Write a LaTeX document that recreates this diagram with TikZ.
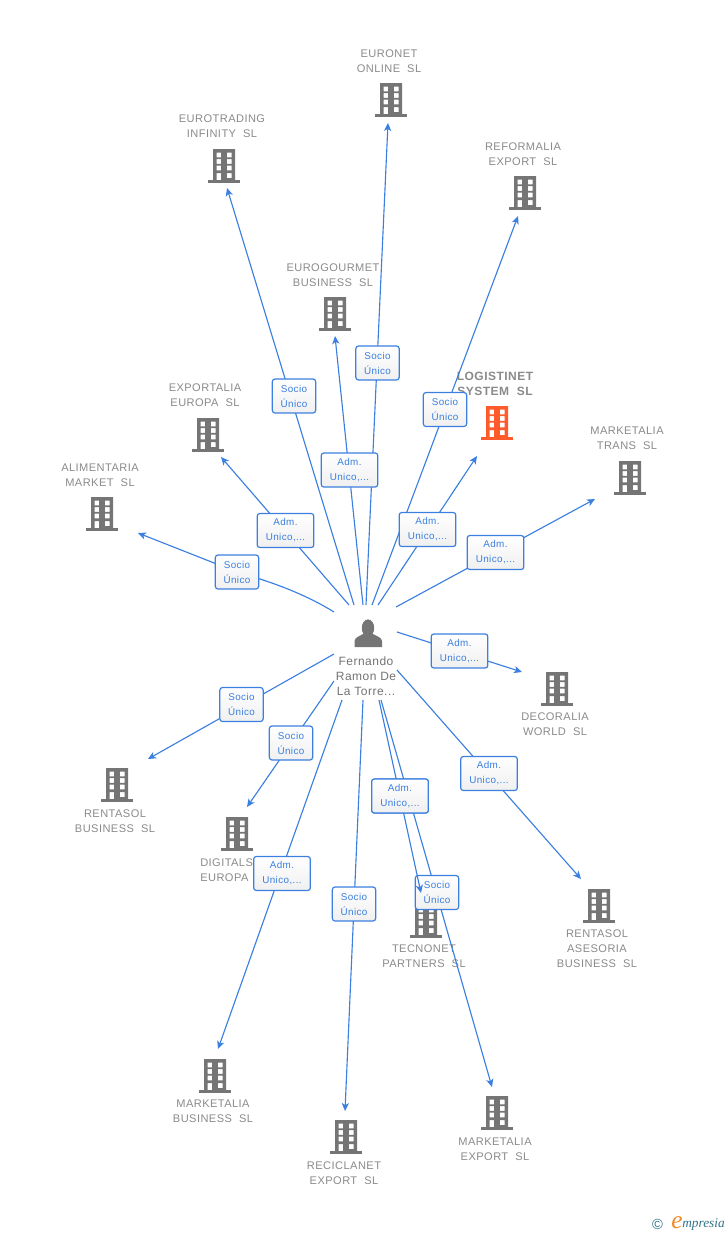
\documentclass[tikz,border=0pt]{standalone}
\usepackage{fontspec}
\usetikzlibrary{arrows.meta}
\setmainfont{Liberation Sans}
\newfontfamily\lblfont[LetterSpace=4]{Liberation Sans}
\newfontfamily\logofont{Liberation Serif}
\definecolor{linkblue}{HTML}{3B7FE0}
\definecolor{txtgray}{HTML}{8A8A8A}
\definecolor{bldgray}{HTML}{757575}
\definecolor{bldred}{HTML}{FF5A2B}
\definecolor{logoteal}{HTML}{2F7488}
\definecolor{logoorange}{HTML}{F08A24}
\tikzset{
  x=0.75pt,y=-0.75pt,
  conn/.style={draw=linkblue,line width=0.85pt,-{Stealth[length=6pt,width=5.4pt,inset=1.6pt]}},
  lab/.style={draw=linkblue,line width=0.9pt,rounded corners=2pt,top color=white,bottom color=white!94!black,
    text=linkblue,font=\lblfont\fontsize{7.4pt}{11.25pt}\selectfont,align=center,inner sep=0pt,minimum height=25.5pt},
  socio/.style={lab,minimum width=32.5pt},
  adm/.style={lab,minimum width=42.5pt},
  comp/.style={text=txtgray,font=\lblfont\fontsize{8.3pt}{11.25pt}\selectfont,align=center,inner sep=0pt},
  compmain/.style={comp,font=\lblfont\bfseries\fontsize{9pt}{11.25pt}\selectfont},
}
\newcommand{\bldicon}[4]{% name, x, top y, colour
  \coordinate (#1) at (#2,#3+17);
  \begin{scope}[shift={(#2,#3)}]
    \fill[#4,even odd rule] (-11,0) rectangle (11,31)
      (-7.5,3.7) rectangle (-2.8,8.3) (2.8,3.7) rectangle (7.5,8.3)
      (-7.5,10.2) rectangle (-2.8,14.8) (2.8,10.2) rectangle (7.5,14.8)
      (-7.5,16.7) rectangle (-2.8,21.3) (2.8,16.7) rectangle (7.5,21.3)
      (-7.5,24) rectangle (-2.8,31) (2.8,24) rectangle (7.5,29);
    \fill[#4] (-16,31) rectangle (16,33.5);
  \end{scope}}
\begin{document}
\begin{tikzpicture}
\useasboundingbox (0,0) rectangle (728,1235);
% company texts and icons
\node[comp] (t1) at (389,61.5) {EURONET\\ONLINE\ \ SL};
\bldicon{c1}{391}{83}{bldgray}
\node[comp] (t2) at (222,126) {EUROTRADING\\INFINITY\ \ SL};
\bldicon{c2}{224}{149}{bldgray}
\node[comp] (t3) at (523,154) {REFORMALIA\\EXPORT\ \ SL};
\bldicon{c3}{525}{176}{bldgray}
\node[comp] (t4) at (333,275) {EUROGOURMET\\BUSINESS\ \ SL};
\bldicon{c4}{335}{297}{bldgray}
\node[compmain] (t5) at (495,384) {LOGISTINET\\SYSTEM\ \ SL};
\bldicon{c5}{497}{406}{bldred}
\node[comp] (t6) at (627,438.5) {MARKETALIA\\TRANS\ \ SL};
\bldicon{c6}{630}{461}{bldgray}
\node[comp] (t7) at (205,395) {EXPORTALIA\\EUROPA\ \ SL};
\bldicon{c7}{208}{418}{bldgray}
\node[comp] (t8) at (100,475) {ALIMENTARIA\\MARKET\ \ SL};
\bldicon{c8}{102}{497}{bldgray}
\node[comp] (t9) at (555,724) {DECORALIA\\WORLD\ \ SL};
\bldicon{c9}{557}{672}{bldgray}
\node[comp] (t10) at (597,949) {RENTASOL\\ASESORIA\\BUSINESS\ \ SL};
\bldicon{c10}{599}{889}{bldgray}
\node[comp] (t11) at (495,1149) {MARKETALIA\\EXPORT\ \ SL};
\bldicon{c11}{497}{1096}{bldgray}
\node[comp] (t12) at (424,956.5) {TECNONET\\PARTNERS\ \ SL};
\bldicon{c12}{426}{904}{bldgray}
\node[comp] (t13) at (344,1173) {RECICLANET\\EXPORT\ \ SL};
\bldicon{c13}{346}{1120}{bldgray}
\node[comp] (t14) at (213,1111) {MARKETALIA\\BUSINESS\ \ SL};
\bldicon{c14}{215}{1059}{bldgray}
\node[comp,align=left,anchor=west] (t15) at (200,870.5) {DIGITALS\\EUROPA};
\bldicon{c15}{237}{817}{bldgray}
\node[comp] (t16) at (115,821) {RENTASOL\\BUSINESS\ \ SL};
\bldicon{c16}{117}{768}{bldgray}
% person
\fill[bldgray] (368,628) ellipse (6.2 and 8.6);
\fill[bldgray] (354.5,647) -- (354.5,641) .. controls (355,637) and (360,636) .. (364,633.5)
  -- (372,633.5) .. controls (376,636) and (381.5,637) .. (382,641) -- (382,647) -- cycle;
\node[text=black!55,font=\lblfont\fontsize{9pt}{11.25pt}\selectfont,align=center,inner sep=0pt] (P) at (366,676) {Fernando\\Ramon De\\La Torre...};
% connector ends
\foreach \n/\sx/\sy/\ex/\ey in {
  1/366/605/388/123, 2/354/605/227/188, 3/372/605/518/216, 4/363/605/335/336,
  5/378/605/477/456, 6/396/607/595/499, 7/349/605/221/457, 8/334/612/138/533,
  9/397/632/522/672, 10/397/670/581/879, 11/381/700/492/1087, 12/379/700/421/893,
  13/363/700/345/1111, 14/342/700/218/1049, 15/334/681/247/807, 16/334/654/148/759}{
  \coordinate (s\n) at (\sx,\sy);
  \coordinate (e\n) at (\ex,\ey);
}
\coordinate (k8) at (237,572);
% connectors and their labels
\draw[conn] (s2) -- (e2);
\node[socio] (l2) at (294,396) {Socio\\Único};
\draw[conn] (s1) -- (e1);
\node[socio] (l1) at (377.5,363) {Socio\\Único};
\draw[conn] (s4) -- (e4);
\node[adm] (l4) at (349.5,470) {Adm.\\Unico,...};
\draw[conn] (s3) -- (e3);
\node[socio] (l3) at (445,409.5) {Socio\\Único};
\draw[conn] (s5) -- (e5);
\draw[conn] (s6) -- (e6);
\node[adm] (l5) at (427.5,529.5) {Adm.\\Unico,...};
\node[adm] (l6) at (495.5,552.5) {Adm.\\Unico,...};
\draw[conn] (s7) -- (e7);
\node[adm] (l7) at (285.5,530.5) {Adm.\\Unico,...};
\draw[conn] (s8) .. controls (305,594) and (272,582) .. (k8) -- (e8);
\node[socio] (l8) at (237,572) {Socio\\Único};
\draw[conn] (s9) -- (e9);
\node[adm] (l9) at (459.5,651) {Adm.\\Unico,...};
\draw[conn] (s10) -- (e10);
\node[adm] (l10) at (489,773.5) {Adm.\\Unico,...};
\draw[conn] (s11) -- (e11);
\node[socio] (l11) at (437,892.5) {Socio\\Único};
\node[adm] (l12) at (400,796) {Adm.\\Unico,...};
\draw[conn] (s12) -- (e12);
\node[adm] at (400,796) {Adm.\\Unico,...};
\draw[conn] (s13) -- (e13);
\node[socio] (l13) at (354,904) {Socio\\Único};
\draw[conn] (s14) -- (e14);
\node[adm] (l14) at (282,873.5) {Adm.\\Unico,...};
\draw[conn] (s15) -- (e15);
\node[socio] (l15) at (291,743) {Socio\\Único};
\draw[conn] (s16) -- (e16);
\node[socio] (l16) at (241.5,704.5) {Socio\\Único};
% logo
\node[text=logoteal,font=\fontsize{11pt}{11pt}\selectfont,inner sep=0pt] (g1) at (657.5,1224) {©};
\node[text=logoorange,font=\logofont\itshape\fontsize{19pt}{19pt}\selectfont,inner sep=0pt] (g2) at (677,1222.5) {e};
\node[text=logoteal,font=\logofont\itshape\fontsize{10pt}{10pt}\selectfont,inner sep=0pt,anchor=west] (g3) at (682,1224) {mpresia};
\end{tikzpicture}
\end{document}
